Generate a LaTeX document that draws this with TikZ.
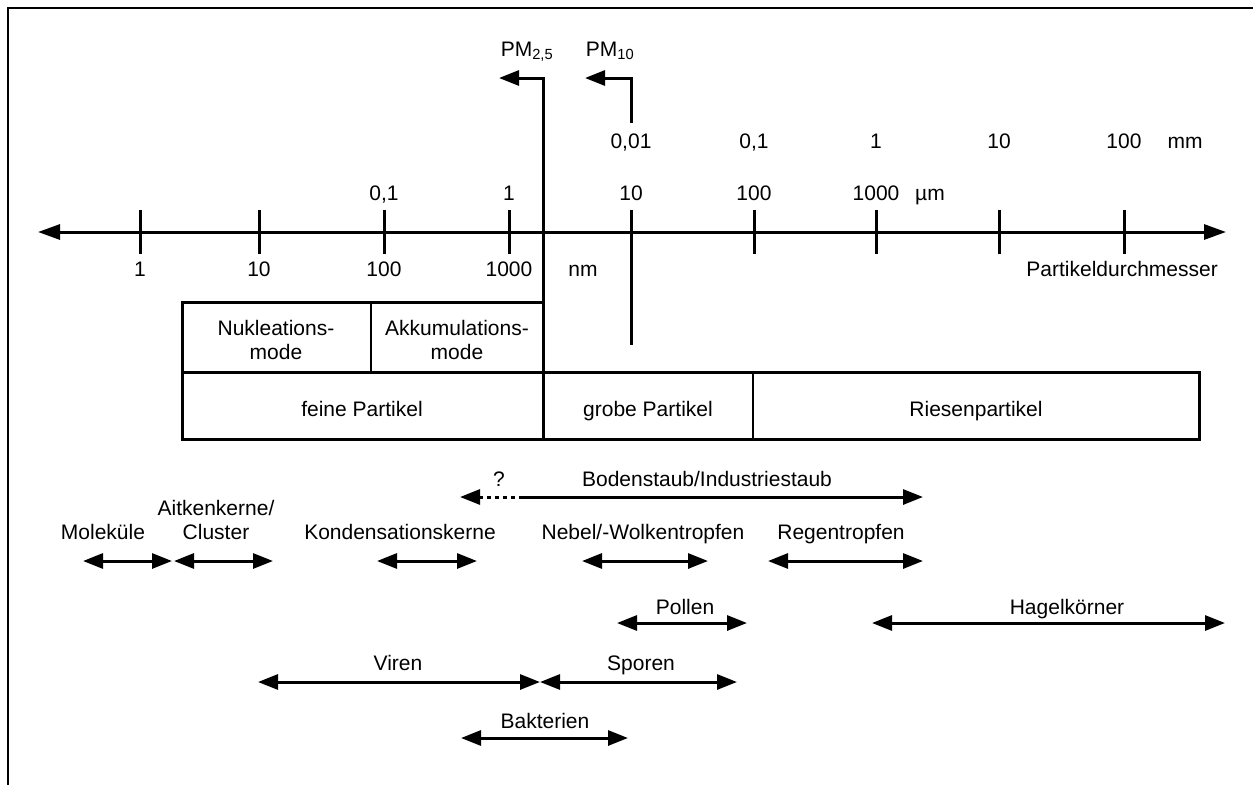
\documentclass[tikz,border=0pt]{standalone}
\usepackage{fontspec}
\setmainfont{Liberation Sans}
\usetikzlibrary{arrows.meta}
\begin{document}
\begin{tikzpicture}[x=1pt,y=-1pt,
  every node/.style={font=\fontsize{21}{24}\selectfont, inner sep=0pt},
  lbl/.style={anchor=base},
  rng/.style={line width=3pt, {Triangle[length=20pt,width=15pt]}-{Triangle[length=20pt,width=15pt]}},
  thick3/.style={line width=3pt},
  tickmark/.style={line width=3pt},
]
\useasboundingbox (0,0) rectangle (1253,785);
% frame
\draw[line width=2pt] (1253,8) -- (8,8) -- (8,785);

% axis
\coordinate (axL) at (38,232);
\coordinate (axR) at (1226,232);
\draw[thick3, {Triangle[length=22pt,width=15pt]}-{Triangle[length=22pt,width=15pt]}] (axL) -- (axR);
\foreach \x in {140,259,384,509,754,876,999,1124}{
  \draw[tickmark] (\x,210) -- (\x,254);
}
% PM10 marker
\coordinate (pmtA) at (631,123);
\coordinate (pmtB) at (631,78);
\coordinate (pmtC) at (585,78);
\draw[thick3,-{Triangle[length=20pt,width=15pt]}] (pmtA) -- (pmtB) -- (pmtC);
% long line at 10 um
\coordinate (ltA) at (631,210);
\coordinate (ltB) at (631,345);
\draw[thick3] (ltA) -- (ltB);
% PM2.5 line
\coordinate (pmA) at (543,439);
\coordinate (pmB) at (543,78);
\coordinate (pmC) at (499,78);
\draw[thick3,-{Triangle[length=20pt,width=15pt]}] (pmA) -- (pmB) -- (pmC);

\node[lbl] (pm25) at (527,56) {PM\textsubscript{2,5}};
\node[lbl] (pm10) at (610,56) {PM\textsubscript{10}};

% mm row
\foreach \x/\t/\n in {631/{0,01}/m1,754/{0,1}/m2,876/1/m3,999/10/m4,1124/100/m5,1185/mm/m6}{
  \node[lbl] (\n) at (\x,148) {\t};
}
% um row
\foreach \x/\t/\n in {384/{0,1}/u1,509/1/u2,631/10/u3,754/100/u4,876/1000/u5,930/µm/u6}{
  \node[lbl] (\n) at (\x,200) {\t};
}
% nm row
\foreach \x/\t/\n in {140/1/n1,259/10/n2,384/100/n3,509/1000/n4,583/nm/n5}{
  \node[lbl] (\n) at (\x,276) {\t};
}
\node[anchor=base east] (pd) at (1218,276) {Partikeldurchmesser};

% boxes
\draw[thick3] (182,302) rectangle (543,372);
\draw[line width=2pt] (371,302) -- (371,372);
\draw[thick3] (182,372) rectangle (1199,439);
\draw[line width=2pt] (753,372) -- (753,439);
\node[lbl,align=center] (nuk) at (276,359) {Nukleations-\\mode};
\node[lbl,align=center] (akk) at (457,359) {Akkumulations-\\mode};
\node[lbl] (fein) at (362,416) {feine Partikel};
\node[lbl] (grob) at (648,416) {grobe Partikel};
\node[lbl] (ries) at (976,416) {Riesenpartikel};

% Bodenstaub
\node[lbl] (boden) at (707,486) {Bodenstaub/Industriestaub};
\node[lbl] (q) at (499,486) {?};
\coordinate (bA) at (460,497);
\coordinate (bB) at (521,497);
\coordinate (bC) at (923,497);
\draw[line width=3pt, dash pattern=on 4pt off 4pt, {Triangle[length=20pt,width=15pt]}-] (bA) -- (bB);
\draw[line width=3pt, -{Triangle[length=20pt,width=15pt]}] (bB) -- (bC);

% row 1
\node[lbl] (mol) at (103,539) {Moleküle};
\node[lbl,align=center] (ait) at (216,539) {Aitkenkerne/\\Cluster};
\node[lbl] (kond) at (400,539) {Kondensationskerne};
\node[lbl] (neb) at (643,539) {Nebel/-Wolkentropfen};
\node[lbl] (reg) at (841,539) {Regentropfen};
\coordinate (r1a) at (83,561); \coordinate (r1b) at (172,561);
\coordinate (r1c) at (174,561); \coordinate (r1d) at (273,561);
\coordinate (r1e) at (377,561); \coordinate (r1f) at (477,561);
\coordinate (r1g) at (582,561); \coordinate (r1h) at (708,561);
\coordinate (r1i) at (768,561); \coordinate (r1j) at (923,561);
\draw[rng] (r1a) -- (r1b);
\draw[rng] (r1c) -- (r1d);
\draw[rng] (r1e) -- (r1f);
\draw[rng] (r1g) -- (r1h);
\draw[rng] (r1i) -- (r1j);

% row 2
\node[lbl] (pol) at (685,614) {Pollen};
\node[lbl] (hag) at (1067,614) {Hagelkörner};
\coordinate (r2a) at (617,623); \coordinate (r2b) at (747,623);
\coordinate (r2c) at (872,623); \coordinate (r2d) at (1225,623);
\draw[rng] (r2a) -- (r2b);
\draw[rng] (r2c) -- (r2d);

% row 3
\node[lbl] (vir) at (398,670) {Viren};
\node[lbl] (spo) at (641,670) {Sporen};
\coordinate (r3a) at (258,682); \coordinate (r3b) at (540,682);
\coordinate (r3c) at (540,682); \coordinate (r3d) at (737,682);
\draw[rng] (r3a) -- (r3b);
\draw[rng] (r3c) -- (r3d);

% row 4
\node[lbl] (bak) at (545,728) {Bakterien};
\coordinate (r4a) at (461,738); \coordinate (r4b) at (628,738);
\draw[rng] (r4a) -- (r4b);
\end{tikzpicture}
\end{document}
